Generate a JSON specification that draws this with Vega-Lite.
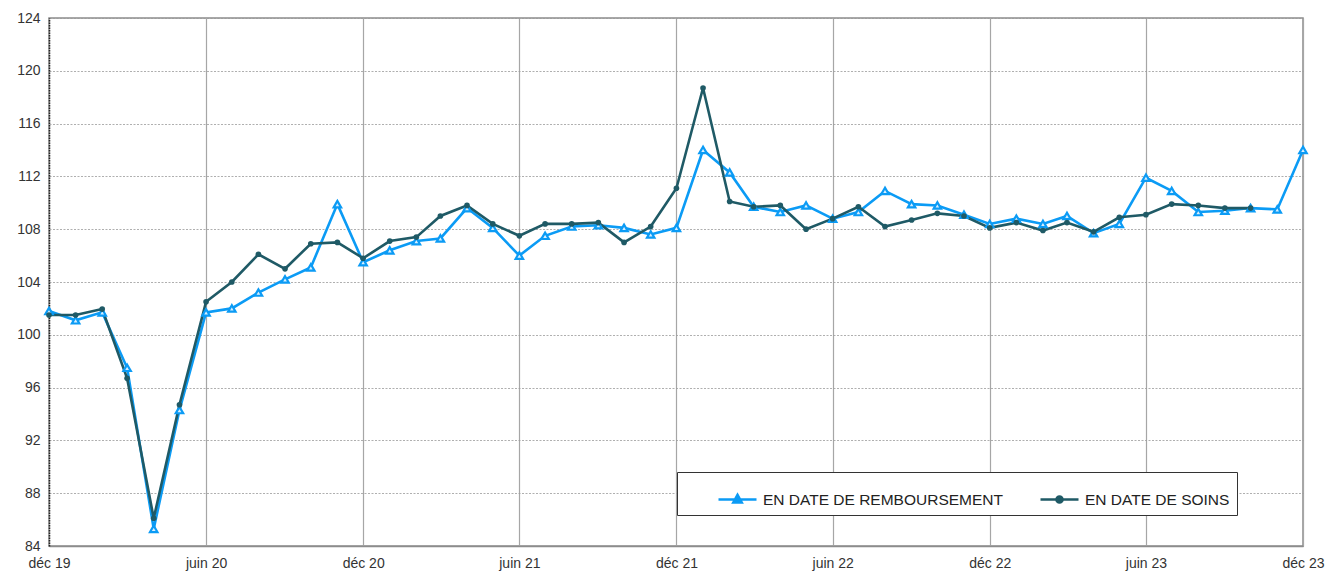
{
  "$schema": "https://vega.github.io/schema/vega-lite/v6.json",
  "width": 1254,
  "height": 528,
  "autosize": {"type": "none"},
  "padding": {"left": 49, "top": 18, "right": 27, "bottom": 27},
  "background": "white",
  "config": {
    "font": "Liberation Sans",
    "view": {"stroke": "#8c8c8c", "strokeWidth": 1.5},
    "axis": {"labelFont": "Liberation Sans", "labelFontSize": 14, "labelColor": "#333333"}
  },
  "datasets": {
    "rows": [
      {"date": "2019-12-01", "serie": "EN DATE DE REMBOURSEMENT", "value": 101.8},
      {"date": "2020-01-01", "serie": "EN DATE DE REMBOURSEMENT", "value": 101.1},
      {"date": "2020-02-01", "serie": "EN DATE DE REMBOURSEMENT", "value": 101.7},
      {"date": "2020-03-01", "serie": "EN DATE DE REMBOURSEMENT", "value": 97.5},
      {"date": "2020-04-01", "serie": "EN DATE DE REMBOURSEMENT", "value": 85.3},
      {"date": "2020-05-01", "serie": "EN DATE DE REMBOURSEMENT", "value": 94.3},
      {"date": "2020-06-01", "serie": "EN DATE DE REMBOURSEMENT", "value": 101.7},
      {"date": "2020-07-01", "serie": "EN DATE DE REMBOURSEMENT", "value": 102.0},
      {"date": "2020-08-01", "serie": "EN DATE DE REMBOURSEMENT", "value": 103.2},
      {"date": "2020-09-01", "serie": "EN DATE DE REMBOURSEMENT", "value": 104.2},
      {"date": "2020-10-01", "serie": "EN DATE DE REMBOURSEMENT", "value": 105.1},
      {"date": "2020-11-01", "serie": "EN DATE DE REMBOURSEMENT", "value": 109.9},
      {"date": "2020-12-01", "serie": "EN DATE DE REMBOURSEMENT", "value": 105.5},
      {"date": "2021-01-01", "serie": "EN DATE DE REMBOURSEMENT", "value": 106.4},
      {"date": "2021-02-01", "serie": "EN DATE DE REMBOURSEMENT", "value": 107.1},
      {"date": "2021-03-01", "serie": "EN DATE DE REMBOURSEMENT", "value": 107.3},
      {"date": "2021-04-01", "serie": "EN DATE DE REMBOURSEMENT", "value": 109.6},
      {"date": "2021-05-01", "serie": "EN DATE DE REMBOURSEMENT", "value": 108.1},
      {"date": "2021-06-01", "serie": "EN DATE DE REMBOURSEMENT", "value": 106.0},
      {"date": "2021-07-01", "serie": "EN DATE DE REMBOURSEMENT", "value": 107.5},
      {"date": "2021-08-01", "serie": "EN DATE DE REMBOURSEMENT", "value": 108.2},
      {"date": "2021-09-01", "serie": "EN DATE DE REMBOURSEMENT", "value": 108.3},
      {"date": "2021-10-01", "serie": "EN DATE DE REMBOURSEMENT", "value": 108.1},
      {"date": "2021-11-01", "serie": "EN DATE DE REMBOURSEMENT", "value": 107.6},
      {"date": "2021-12-01", "serie": "EN DATE DE REMBOURSEMENT", "value": 108.1},
      {"date": "2022-01-01", "serie": "EN DATE DE REMBOURSEMENT", "value": 114.0},
      {"date": "2022-02-01", "serie": "EN DATE DE REMBOURSEMENT", "value": 112.3},
      {"date": "2022-03-01", "serie": "EN DATE DE REMBOURSEMENT", "value": 109.7},
      {"date": "2022-04-01", "serie": "EN DATE DE REMBOURSEMENT", "value": 109.3},
      {"date": "2022-05-01", "serie": "EN DATE DE REMBOURSEMENT", "value": 109.8},
      {"date": "2022-06-01", "serie": "EN DATE DE REMBOURSEMENT", "value": 108.8},
      {"date": "2022-07-01", "serie": "EN DATE DE REMBOURSEMENT", "value": 109.3},
      {"date": "2022-08-01", "serie": "EN DATE DE REMBOURSEMENT", "value": 110.9},
      {"date": "2022-09-01", "serie": "EN DATE DE REMBOURSEMENT", "value": 109.9},
      {"date": "2022-10-01", "serie": "EN DATE DE REMBOURSEMENT", "value": 109.8},
      {"date": "2022-11-01", "serie": "EN DATE DE REMBOURSEMENT", "value": 109.1},
      {"date": "2022-12-01", "serie": "EN DATE DE REMBOURSEMENT", "value": 108.4},
      {"date": "2023-01-01", "serie": "EN DATE DE REMBOURSEMENT", "value": 108.8},
      {"date": "2023-02-01", "serie": "EN DATE DE REMBOURSEMENT", "value": 108.4},
      {"date": "2023-03-01", "serie": "EN DATE DE REMBOURSEMENT", "value": 109.0},
      {"date": "2023-04-01", "serie": "EN DATE DE REMBOURSEMENT", "value": 107.7},
      {"date": "2023-05-01", "serie": "EN DATE DE REMBOURSEMENT", "value": 108.4},
      {"date": "2023-06-01", "serie": "EN DATE DE REMBOURSEMENT", "value": 111.9},
      {"date": "2023-07-01", "serie": "EN DATE DE REMBOURSEMENT", "value": 110.9},
      {"date": "2023-08-01", "serie": "EN DATE DE REMBOURSEMENT", "value": 109.3},
      {"date": "2023-09-01", "serie": "EN DATE DE REMBOURSEMENT", "value": 109.4},
      {"date": "2023-10-01", "serie": "EN DATE DE REMBOURSEMENT", "value": 109.6},
      {"date": "2023-11-01", "serie": "EN DATE DE REMBOURSEMENT", "value": 109.5},
      {"date": "2023-12-01", "serie": "EN DATE DE REMBOURSEMENT", "value": 114.0},
      {"date": "2019-12-01", "serie": "EN DATE DE SOINS", "value": 101.5},
      {"date": "2020-01-01", "serie": "EN DATE DE SOINS", "value": 101.5},
      {"date": "2020-02-01", "serie": "EN DATE DE SOINS", "value": 101.95},
      {"date": "2020-03-01", "serie": "EN DATE DE SOINS", "value": 96.7},
      {"date": "2020-04-01", "serie": "EN DATE DE SOINS", "value": 86.1},
      {"date": "2020-05-01", "serie": "EN DATE DE SOINS", "value": 94.7},
      {"date": "2020-06-01", "serie": "EN DATE DE SOINS", "value": 102.5},
      {"date": "2020-07-01", "serie": "EN DATE DE SOINS", "value": 104.0},
      {"date": "2020-08-01", "serie": "EN DATE DE SOINS", "value": 106.1},
      {"date": "2020-09-01", "serie": "EN DATE DE SOINS", "value": 105.0},
      {"date": "2020-10-01", "serie": "EN DATE DE SOINS", "value": 106.9},
      {"date": "2020-11-01", "serie": "EN DATE DE SOINS", "value": 107.0},
      {"date": "2020-12-01", "serie": "EN DATE DE SOINS", "value": 105.8},
      {"date": "2021-01-01", "serie": "EN DATE DE SOINS", "value": 107.1},
      {"date": "2021-02-01", "serie": "EN DATE DE SOINS", "value": 107.4},
      {"date": "2021-03-01", "serie": "EN DATE DE SOINS", "value": 109.0},
      {"date": "2021-04-01", "serie": "EN DATE DE SOINS", "value": 109.8},
      {"date": "2021-05-01", "serie": "EN DATE DE SOINS", "value": 108.4},
      {"date": "2021-06-01", "serie": "EN DATE DE SOINS", "value": 107.5},
      {"date": "2021-07-01", "serie": "EN DATE DE SOINS", "value": 108.4},
      {"date": "2021-08-01", "serie": "EN DATE DE SOINS", "value": 108.4},
      {"date": "2021-09-01", "serie": "EN DATE DE SOINS", "value": 108.5},
      {"date": "2021-10-01", "serie": "EN DATE DE SOINS", "value": 107.0},
      {"date": "2021-11-01", "serie": "EN DATE DE SOINS", "value": 108.2},
      {"date": "2021-12-01", "serie": "EN DATE DE SOINS", "value": 111.1},
      {"date": "2022-01-01", "serie": "EN DATE DE SOINS", "value": 118.7},
      {"date": "2022-02-01", "serie": "EN DATE DE SOINS", "value": 110.1},
      {"date": "2022-03-01", "serie": "EN DATE DE SOINS", "value": 109.7},
      {"date": "2022-04-01", "serie": "EN DATE DE SOINS", "value": 109.8},
      {"date": "2022-05-01", "serie": "EN DATE DE SOINS", "value": 108.0},
      {"date": "2022-06-01", "serie": "EN DATE DE SOINS", "value": 108.8},
      {"date": "2022-07-01", "serie": "EN DATE DE SOINS", "value": 109.7},
      {"date": "2022-08-01", "serie": "EN DATE DE SOINS", "value": 108.2},
      {"date": "2022-09-01", "serie": "EN DATE DE SOINS", "value": 108.7},
      {"date": "2022-10-01", "serie": "EN DATE DE SOINS", "value": 109.2},
      {"date": "2022-11-01", "serie": "EN DATE DE SOINS", "value": 109.0},
      {"date": "2022-12-01", "serie": "EN DATE DE SOINS", "value": 108.1},
      {"date": "2023-01-01", "serie": "EN DATE DE SOINS", "value": 108.5},
      {"date": "2023-02-01", "serie": "EN DATE DE SOINS", "value": 107.9},
      {"date": "2023-03-01", "serie": "EN DATE DE SOINS", "value": 108.5},
      {"date": "2023-04-01", "serie": "EN DATE DE SOINS", "value": 107.8},
      {"date": "2023-05-01", "serie": "EN DATE DE SOINS", "value": 108.9},
      {"date": "2023-06-01", "serie": "EN DATE DE SOINS", "value": 109.1},
      {"date": "2023-07-01", "serie": "EN DATE DE SOINS", "value": 109.9},
      {"date": "2023-08-01", "serie": "EN DATE DE SOINS", "value": 109.8},
      {"date": "2023-09-01", "serie": "EN DATE DE SOINS", "value": 109.6},
      {"date": "2023-10-01", "serie": "EN DATE DE SOINS", "value": 109.6}
    ]
  },
  "data": {"name": "rows"},
  "encoding": {
    "x": {
      "field": "date",
      "type": "temporal",
      "scale": {"type": "utc", "domain": [{"year": 2019, "month": 12, "date": 1, "utc": true}, {"year": 2023, "month": 12, "date": 1, "utc": true}], "nice": false},
      "axis": {
        "title": null,
        "values": [
          {"year": 2019, "month": 12, "date": 1, "utc": true},
          {"year": 2020, "month": 6, "date": 1, "utc": true},
          {"year": 2020, "month": 12, "date": 1, "utc": true},
          {"year": 2021, "month": 6, "date": 1, "utc": true},
          {"year": 2021, "month": 12, "date": 1, "utc": true},
          {"year": 2022, "month": 6, "date": 1, "utc": true},
          {"year": 2022, "month": 12, "date": 1, "utc": true},
          {"year": 2023, "month": 6, "date": 1, "utc": true},
          {"year": 2023, "month": 12, "date": 1, "utc": true}
        ],
        "labelExpr": "(utcFormat(datum.value, '%m') == '12' ? 'déc ' : 'juin ') + utcFormat(datum.value, '%y')",
        "grid": true,
        "gridColor": "#a6a6a6",
        "gridWidth": 1.2,
        "domain": true,
        "domainColor": "#8c8c8c",
        "domainWidth": 1.5,
        "ticks": false,
        "labelPadding": 10,
        "labelFlush": false
      }
    },
    "y": {
      "field": "value",
      "type": "quantitative",
      "scale": {"domain": [84, 124], "nice": false, "zero": false},
      "axis": {
        "title": null,
        "values": [84, 88, 92, 96, 100, 104, 108, 112, 116, 120, 124],
        "grid": true,
        "gridColor": "#9a9a9a",
        "gridDash": [2, 1.5],
        "gridWidth": 0.8,
        "domain": true,
        "domainColor": "#222222",
        "domainWidth": 1.5,
        "domainDash": [1.5, 1],
        "ticks": false,
        "labelPadding": 9
      }
    }
  },
  "layer": [
    {
      "mark": {"type": "line", "strokeWidth": 2.6},
      "encoding": {
        "color": {
          "field": "serie",
          "type": "nominal",
          "scale": {"domain": ["EN DATE DE REMBOURSEMENT", "EN DATE DE SOINS"], "range": ["#0b9bf5", "#1f5a66"]},
          "legend": {
            "title": null,
            "orient": "none",
            "legendX": 628,
            "legendY": 454,
            "direction": "horizontal",
            "strokeColor": "#333333",
            "fillColor": "white",
            "padding": 7,
            "symbolOffset": 33,
            "symbolSize": 1444,
            "symbolStrokeWidth": 2.6,
            "labelFont": "Liberation Sans",
            "labelFontSize": 15.5,
            "labelColor": "#222222",
            "labelOffset": 5,
            "columnPadding": 3,
            "labelLimit": 400,
            "encode": {
              "symbols": {
                "update": {
                  "shape": {"signal": "datum.value == 'EN DATE DE SOINS' ? 'M-1,0H1M0.16,0A0.16,0.16 0 1,1 -0.16,0A0.16,0.16 0 1,1 0.16,0Z' : 'M-1,0H1M-0.22,0.16L0,-0.24L0.22,0.16Z'"},
                  "fill": {"signal": "datum.value == 'EN DATE DE SOINS' ? '#1f5a66' : '#0b9bf5'"}
                }
              }
            }
          }
        }
      }
    },
    {
      "transform": [{"filter": "datum.serie == 'EN DATE DE REMBOURSEMENT'"}],
      "mark": {"type": "point", "shape": "triangle-up", "filled": true, "fill": "#d8efff", "stroke": "#0b9bf5", "strokeWidth": 2.2, "size": 55, "opacity": 1}
    },
    {
      "transform": [{"filter": "datum.serie == 'EN DATE DE SOINS'"}],
      "mark": {"type": "point", "shape": "circle", "filled": true, "color": "#1f5a66", "size": 32, "opacity": 1}
    }
  ]
}
